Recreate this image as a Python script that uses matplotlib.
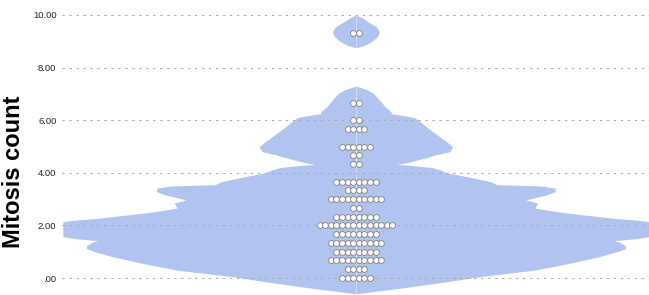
import numpy as np
from matplotlib import pyplot as plt

plt.rcParams['font.family'] = ['Liberation Sans', 'DejaVu Sans']

# dot rows: mitosis count (mean of 3 fields -> steps of 1/3) and cases per row
dot_levels = np.array([0, 1, 2, 3, 4, 5, 6, 7, 8, 9, 10, 11, 13, 14, 15, 17, 18, 20, 28]) / 3.0
dot_counts = [6, 4, 10, 8, 10, 8, 14, 8, 2, 10, 4, 8, 2, 2, 6, 4, 2, 2, 2]

# violin outline (density, relative half width)
body_y = [-0.60, -0.50, -0.39, -0.14, 0.05, 0.30, 0.56, 0.81, 1.00, 1.12, 1.22, 1.36,
          1.42, 1.50, 1.57, 1.70, 1.90, 2.14, 2.20, 2.27, 2.46, 2.55, 2.66, 2.85,
          2.97, 3.08, 3.16, 3.28, 3.42, 3.50, 3.55, 3.66, 3.85, 4.00, 4.10, 4.20,
          4.28, 4.32, 4.40, 4.49, 4.60, 4.68, 4.80, 4.99, 5.18, 5.50, 5.75, 5.94,
          6.10, 6.18, 6.25, 6.32, 6.51, 6.77, 7.02, 7.15, 7.30]
body_w = [0.00, 0.07, 0.15, 0.31, 0.42, 0.61, 0.73, 0.83, 0.89, 0.92, 0.92, 0.90,
          0.88, 0.96, 1.00, 1.00, 1.00, 1.00, 0.96, 0.88, 0.73, 0.67, 0.61, 0.62,
          0.58, 0.62, 0.65, 0.68, 0.68, 0.63, 0.48, 0.46, 0.38, 0.31, 0.29, 0.26,
          0.19, 0.14, 0.18, 0.21, 0.25, 0.27, 0.32, 0.33, 0.31, 0.27, 0.24, 0.22,
          0.20, 0.16, 0.12, 0.12, 0.10, 0.08, 0.06, 0.04, 0.00]
top_y = [8.75, 8.85, 9.00, 9.20, 9.37, 9.55, 9.75, 9.90, 10.00]
top_w = [0.00, 0.03, 0.055, 0.075, 0.08, 0.07, 0.04, 0.02, 0.00]

ticks = [0, 2, 4, 6, 8, 10]
tick_labels = ['.00', '2.00', '4.00', '6.00', '8.00', '10.00']

violin_color = '#b1c4f0'
dot_step = 0.0191


fig = plt.figure(figsize=(6.49, 2.95), dpi=100)
ax = fig.add_axes([0.0955, 0.0, 0.9045, 1.0])

for ys, ws in [(body_y, body_w), (top_y, top_w)]:
    ws = np.array(ws)
    ax.fill_betweenx(ys, -ws, ws, color=violin_color, lw=0, zorder=1)

# faint centre line
ax.axvline(0, color='white', lw=0.8, alpha=0.35, zorder=1.5)

xs, ys = [], []
for lev, n in zip(dot_levels, dot_counts):
    for i in range(n):
        xs.append((i - (n - 1) / 2.0) * dot_step)
        ys.append(lev)
ax.scatter(xs, ys, s=18, facecolor='white', edgecolor='#8a8a8a', linewidths=0.7, zorder=3)

ax.set_xlim(-1.003, 1.0)
ax.set_ylim(-0.646, 10.57)
ax.set_xticks([])
ax.set_yticks(ticks)
ax.set_yticklabels(tick_labels, fontsize=6.8, color='#222222')
ax.tick_params(axis='y', length=0, pad=4)
ax.set_axisbelow(False)
ax.yaxis.grid(True, color='#a8a8a8', lw=0.75, linestyle=(0, (2.2, 4.5)), zorder=2)
for s in ax.spines.values():
    s.set_visible(False)

fig.text(14 / 649, 1 - 172 / 295, 'Mitosis count', rotation=90, ha='center', va='center',
         fontsize=17, fontweight='bold', color='black')

plt.savefig('out.png', dpi=100)
